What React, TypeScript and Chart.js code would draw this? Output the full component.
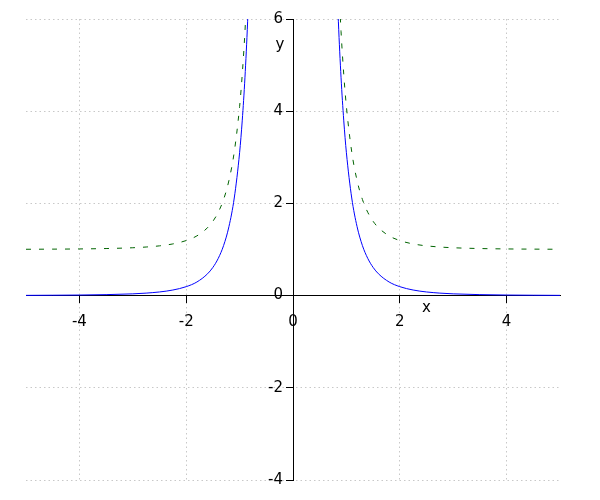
import React, { useEffect, useRef } from "react";
import { Chart, registerables } from "chart.js";

Chart.register(...registerables);

// x positions (magnitudes) where the curves were read, mirrored for both branches
const xMagnitudes = [5, 4.5, 4, 3.5, 3, 2.75, 2.5, 2.25, 2, 1.8, 1.6, 1.5, 1.4, 1.3, 1.2, 1.1, 1, 0.95, 0.9, 0.85, 0.8];
// solid blue curve values
const blueValues = [0.005, 0.008, 0.012, 0.021, 0.038, 0.054, 0.079, 0.121, 0.194, 0.295, 0.473, 0.612, 0.807, 1.085, 1.495, 2.117, 3.1, 3.806, 4.725, 5.94, 7.57];
// dashed green curve values
const greenValues = [1.005, 1.008, 1.012, 1.021, 1.038, 1.054, 1.079, 1.121, 1.194, 1.295, 1.473, 1.612, 1.807, 2.085, 2.495, 3.117, 4.1, 4.806, 5.725, 6.94, 8.57];

const xTicks = [-4, -2, 0, 2, 4];
const yTicks = [-4, -2, 0, 2, 4, 6];
const xTitle = "x";
const yTitle = "y";

function buildSeries(values: number[]) {
  const left = xMagnitudes.map((m, i) => ({ x: -m, y: values[i] }));
  const right = xMagnitudes
    .map((m, i) => ({ x: m, y: values[i] }))
    .reverse();
  return [...left, { x: 0, y: null as any }, ...right];
}

const FONT = "DejaVu Sans";

const axisText = {
  id: "axisText",
  afterDraw(chart: any) {
    const { ctx, scales } = chart;
    const xs = scales.x;
    const ys = scales.y;
    const x0 = xs.getPixelForValue(0);
    ctx.save();
    ctx.fillStyle = "#000";
    ctx.font = `15px "${FONT}"`;
    // y tick labels, left of the y axis
    ctx.textAlign = "right";
    ctx.textBaseline = "middle";
    yTicks.forEach((v) => {
      ctx.fillText(String(v), x0 - 10, ys.getPixelForValue(v));
    });
    // axis titles
    ctx.textAlign = "center";
    ctx.fillText(xTitle, xs.getPixelForValue(2.5), ys.getPixelForValue(0) + 13);
    ctx.fillText(yTitle, x0 - 13, ys.getPixelForValue(5.43));
    ctx.restore();
  },
};

export default function App() {
  const ref = useRef<HTMLCanvasElement | null>(null);

  useEffect(() => {
    if (!ref.current) return;
    const chart = new Chart(ref.current, {
      type: "line",
      data: {
        datasets: [
          {
            label: "f",
            data: buildSeries(blueValues),
            borderColor: "#0000ff",
            borderWidth: 1,
            pointRadius: 0,
            fill: false,
            cubicInterpolationMode: "monotone",
            spanGaps: false,
          },
          {
            label: "g",
            data: buildSeries(greenValues),
            borderColor: "#006400",
            borderWidth: 1,
            borderDash: [5, 8],
            pointRadius: 0,
            fill: false,
            cubicInterpolationMode: "monotone",
            spanGaps: false,
          },
        ],
      },
      options: {
        animation: false,
        responsive: true,
        maintainAspectRatio: false,
        layout: { padding: { left: 18, top: 11, right: 32, bottom: 12 } },
        plugins: {
          legend: { display: false },
          tooltip: { enabled: false },
        },
        scales: {
          x: {
            type: "linear",
            min: -5,
            max: 5,
            position: { y: 0 },
            afterBuildTicks: (s: any) => {
              s.ticks = xTicks.map((v) => ({ value: v }));
            },
            afterFit: (s: any) => {
              s.height = 0;
            },
            grid: {
              color: "#c8c8c8",
              lineWidth: 1,
              drawTicks: true,
              tickLength: 7,
              tickColor: "#000",
              tickWidth: 1,
              tickBorderDash: [],
            },
            border: { display: true, color: "#000", width: 1, dash: [1.5, 3] },
            ticks: {
              color: "#000",
              padding: 11,
              maxRotation: 0,
              autoSkip: false,
              font: { family: FONT, size: 15 },
            },
          },
          y: {
            type: "linear",
            min: -4,
            max: 6,
            position: { x: 0 },
            afterBuildTicks: (s: any) => {
              s.ticks = yTicks.map((v) => ({ value: v }));
            },
            afterFit: (s: any) => {
              s.width = 0;
            },
            grid: {
              color: "#c8c8c8",
              lineWidth: 1,
              drawTicks: true,
              tickLength: 7,
              tickColor: "#000",
              tickWidth: 1,
              tickBorderDash: [],
            },
            border: { display: true, color: "#000", width: 1, dash: [1.5, 3] },
            ticks: {
              display: false,
              autoSkip: false,
            },
          },
        },
      },
      plugins: [axisText],
    });
    return () => chart.destroy();
  }, []);

  return (
    <div style={{ width: "584px", height: "484px", position: "relative" }}>
      <canvas ref={ref} />
    </div>
  );
}
